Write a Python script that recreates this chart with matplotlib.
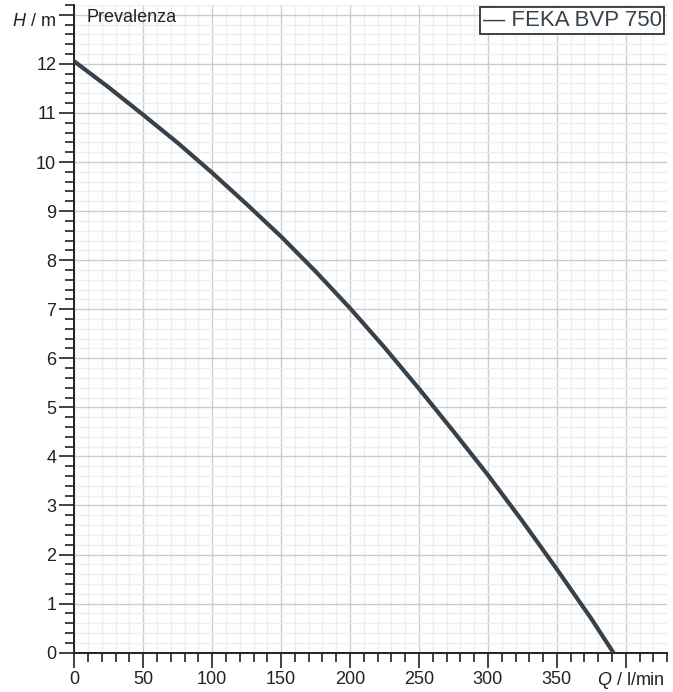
import numpy as np
import matplotlib.pyplot as plt
from matplotlib.ticker import MultipleLocator

plt.rcParams['font.family'] = ['Liberation Sans', 'DejaVu Sans']
plt.rcParams['mathtext.fontset'] = 'custom'
plt.rcParams['mathtext.rm'] = 'Liberation Sans'
plt.rcParams['mathtext.it'] = 'Liberation Sans:italic'

# Pump curve (Q in l/min, H in m)
series_name = 'FEKA BVP 750'
flow = [0, 25, 50, 75, 100, 125, 150, 175, 200, 225, 250, 275, 300, 325, 350, 375, 391]
head = [12.05, 11.52, 10.96, 10.39, 9.78, 9.14, 8.48, 7.77, 7.02, 6.22, 5.38, 4.51, 3.62, 2.68, 1.70, 0.69, 0.0]

x_ticks = [0, 50, 100, 150, 200, 250, 300, 350, 400]
x_labels = ['0', '50', '100', '150', '200', '250', '300', '350', '']
y_ticks = list(range(0, 14))
y_labels = [str(v) for v in range(0, 13)] + ['']

line_col = '#37414b'
ink = '#222222'

fig = plt.figure(figsize=(6.73, 6.92), dpi=100)
ax = fig.add_axes([0.1104, 0.0568, 0.881, 0.936])

ax.plot(flow, head, color=line_col, lw=3.0, solid_joinstyle='round', zorder=3)

ax.set_xlim(0, 430)
ax.set_ylim(0, 13.2)
ax.set_xticks(x_ticks)
ax.set_xticklabels(x_labels)
ax.set_yticks(y_ticks)
ax.set_yticklabels(y_labels)
ax.xaxis.set_minor_locator(MultipleLocator(10))
ax.yaxis.set_minor_locator(MultipleLocator(0.2))

ax.grid(which='major', color='#cccccc', lw=1.0, zorder=0)
ax.grid(which='minor', color='#eeeeee', lw=1.0, zorder=0)
ax.set_axisbelow(True)

for s in ['top', 'right']:
    ax.spines[s].set_visible(False)
for s in ['left', 'bottom']:
    ax.spines[s].set_color(ink)
    ax.spines[s].set_linewidth(1.4)

ax.tick_params(which='major', length=11, width=1.2, color=ink, labelsize=13, labelcolor=ink, pad=2)
ax.tick_params(which='minor', length=6.5, width=1.2, color=ink)

# axis titles sit in the free tick slots
ax.text(-13.5, 12.86, r'$H$ / m', ha='right', va='center', fontsize=13, color=ink, clip_on=False)
ax.text(403.7, -0.56, r'$Q$ / l/min', ha='center', va='center', fontsize=13, color=ink, clip_on=False)
ax.text(8.5, 12.86, 'Prevalenza', ha='left', va='baseline', fontsize=13, color=ink)

ax.text(0.9905, 0.9925, '— ' + series_name, transform=ax.transAxes, ha='right', va='top',
        fontsize=16, color=line_col,
        bbox=dict(boxstyle='square,pad=0.12', facecolor='white', edgecolor=ink, lw=1.2))

fig.savefig('out.png', dpi=100)
